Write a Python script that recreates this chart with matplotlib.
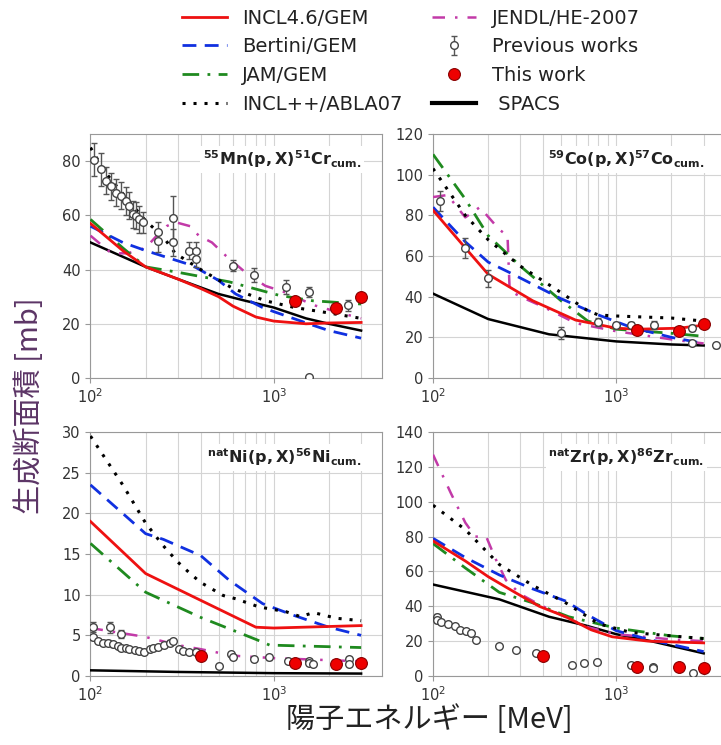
import matplotlib
matplotlib.use('Agg')
import matplotlib.pyplot as plt
from matplotlib.lines import Line2D

plt.rcParams['font.family'] = ['DejaVu Sans', 'Noto Sans CJK JP']


######################################################
# Data (energy in MeV, cross section in mb)

# 55Mn(p,X)51Cr
incl46_mn_e = [100, 150, 200, 300, 400, 500, 600, 800, 1000, 1500, 2000, 3000]
incl46_mn = [57, 47, 41, 36.5, 33, 30, 26.5, 22.5, 21, 20, 20.3, 20.5]
bertini_mn_e = [100, 150, 200, 360, 500, 620, 870, 1000, 1630, 2000, 3000]
bertini_mn = [56, 50, 47, 41.5, 36, 31, 26, 24.5, 19.5, 17.5, 14.7]
jam_mn_e = [100, 150, 200, 300, 570, 1070, 1630, 3000]
jam_mn = [58.5, 48, 41, 39, 35.5, 30.5, 28.5, 27.3]
inclpp_mn_e = [100, 120, 150, 200, 250, 290, 400, 600, 900, 1300, 2000, 3000]
inclpp_mn = [85, 76, 68, 58, 52, 46, 40, 33, 28.5, 26, 24, 22]
jendl_mn_e = [100, 130, 160, 200, 230, 260, 290, 350, 390, 460, 550, 700, 900, 1170, 1630, 2470, 3000]
jendl_mn = [52.5, 46, 46, 48, 52.5, 56, 57.5, 56, 52.5, 50, 45, 39, 34, 31.5, 27, 23.5, 22]
spacs_mn_e = [100, 200, 300, 500, 700, 1000, 1500, 2000, 3000]
spacs_mn = [50, 41, 36.5, 31, 28.5, 26, 22, 20, 17.5]
prev_mn_e = [105, 114, 122, 130, 138, 147, 156, 163, 170, 177, 185, 193, 233, 233,
             281, 281, 346, 377, 377, 596, 780, 1167, 1565, 1565, 2540]
prev_mn = [80.6, 77, 72.7, 70.8, 68.4, 67.2, 65.3, 63.5, 60.4, 59.8, 58.6, 57.4, 53.7, 50.6,
           59.2, 50, 47, 47, 44, 41.5, 37.9, 33.5, 31.7, 0.5, 26.8]
prev_mn_err = [6, 6, 5, 5, 5, 5, 5, 5, 5, 5, 5, 4, 4, 4,
               8, 5, 3, 3, 3, 2, 2.5, 2.5, 2, 0, 2]
this_mn_e = [1300, 2200, 3000]
this_mn = [28.5, 26, 30]

# 59Co(p,X)57Co
incl46_co_e = [100, 150, 200, 350, 600, 1000, 1300, 2200, 3000]
incl46_co = [82.5, 64, 51, 38, 28.5, 24.5, 24, 24.5, 26]
bertini_co_e = [100, 150, 200, 260, 500, 800, 1200, 2000, 3000]
bertini_co = [84, 67, 57, 52, 39, 31, 25, 20, 17]
jam_co_e = [100, 150, 200, 300, 500, 700, 1000, 2000, 3000]
jam_co = [110, 88, 70, 55, 38, 28, 24, 22, 20.5]
inclpp_co_e = [100, 150, 200, 300, 500, 700, 800, 1000, 2000, 3000]
inclpp_co = [103, 80, 68, 55, 42, 33, 31, 30.5, 29.5, 28]
jendl_co_e = [100, 120, 150, 180, 230, 255, 262, 300, 400, 600, 1000, 2000, 3000]
jendl_co = [89, 90, 79, 84, 73, 70, 43, 40, 35, 27, 23, 19, 17]
spacs_co_e = [100, 200, 430, 1000, 2000, 3000]
spacs_co = [41.5, 29, 21.5, 18, 16.5, 16]
prev_co_e = [109, 150, 200, 500, 800, 1000, 1200, 1600, 2600, 2600, 3500]
prev_co = [87, 64, 49, 22, 27.5, 26, 26, 26, 24.5, 17, 16]
prev_co_err = [5, 5, 4, 3, 2, 1.5, 1.5, 2, 1.5, 1, 1]
this_co_e = [1300, 2200, 3000]
this_co = [23.7, 23, 26.4]

# natNi(p,X)56Ni
incl46_ni_e = [100, 200, 400, 800, 1000, 3000]
incl46_ni = [19, 12.6, 9.3, 6.0, 5.9, 6.2]
bertini_ni_e = [100, 200, 250, 400, 570, 870, 1270, 2000, 3000]
bertini_ni = [23.5, 17.5, 16.8, 14.8, 11.8, 8.9, 7.5, 6, 5]
jam_ni_e = [100, 200, 400, 800, 950, 3000]
jam_ni = [16.3, 10.3, 7.2, 4.5, 3.8, 3.5]
inclpp_ni_e = [100, 150, 200, 250, 300, 350, 400, 530, 620, 830, 1170, 1400, 1650, 2200, 3000]
inclpp_ni = [29.5, 23.5, 18.8, 16, 14, 12.6, 11.5, 9.9, 9.5, 8.5, 7.9, 7.3, 7.8, 7.1, 6.8]
jendl_ni_e = [100, 200, 300, 400, 600, 1000, 3000]
jendl_ni = [5.9, 4.8, 3.8, 3.3, 2.5, 2.2, 1.8]
spacs_ni_e = [100, 300, 1000, 3000]
spacs_ni = [0.7, 0.5, 0.35, 0.3]
prev_ni_e = [103, 103, 110, 117, 124, 127, 132, 141, 147, 147, 156, 163, 174, 185, 197, 210, 219, 233,
             253, 270, 281, 306, 319, 346, 377, 505, 584, 596, 781, 945, 1190, 1268, 1565, 1565,
             1630, 2580, 2580]
prev_ni = [6, 4.75, 4.3, 4.1, 4.1, 6, 3.9, 3.7, 3.5, 5.2, 3.4, 3.3, 3.2, 3.1, 3.0, 3.3, 3.4, 3.6,
           3.8, 4.1, 4.3, 3.3, 3.1, 3.0, 2.9, 1.24, 2.7, 2.3, 2.1, 2.3, 1.9, 1.65, 1.9, 1.6,
           1.45, 2.1, 1.45]
prev_ni_err = [0.6, 0.3, 0.3, 0.3, 0.3, 0.7, 0.3, 0.3, 0.3, 0.5, 0.2, 0.2, 0.2, 0.2, 0.2, 0.2, 0.2, 0.2,
               0.2, 0.3, 0.3, 0.2, 0.2, 0.2, 0.2, 0.1, 0.3, 0.2, 0.2, 0.3, 0.2, 0.2, 0.2, 0.2,
               0.2, 0.2, 0.2]
this_ni_e = [400, 1300, 2200, 3000]
this_ni = [2.5, 1.65, 1.45, 1.65]

# natZr(p,X)86Zr
incl46_zr_e = [100, 150, 200, 280, 380, 530, 730, 950, 1500, 3000]
incl46_zr = [77.5, 66, 57, 48, 40, 34, 26.5, 22.5, 20, 19]
bertini_zr_e = [100, 150, 230, 350, 530, 700, 1000, 1500, 3000]
bertini_zr = [79, 68, 58, 50, 43, 35, 26, 21, 14]
jam_zr_e = [100, 150, 230, 350, 550, 1000, 2000, 3000]
jam_zr = [76, 62, 48, 42, 34, 27.5, 23, 21.5]
inclpp_zr_e = [100, 150, 230, 350, 530, 800, 1200, 2000, 3000]
inclpp_zr = [98, 84, 64, 52, 42, 30, 25, 23, 21.5]
jendl_zr_e = [100, 125, 150, 170, 195, 220, 250, 300, 380, 500, 700, 1000, 2000, 3000]
jendl_zr = [127, 105, 88, 80, 80, 67, 55, 47, 41, 35, 28, 24, 21, 20]
spacs_zr_e = [100, 230, 430, 680, 1000, 1550, 3000]
spacs_zr = [52.5, 44, 34, 29, 24, 20, 13]
prev_zr_e = [105, 105, 111, 121, 131, 140, 152, 162, 172, 230, 283, 363, 573, 664, 782, 1209, 1585, 1585, 2619]
prev_zr = [34, 32, 31, 30, 28.5, 26.5, 25.6, 24.6, 20.8, 17, 15, 13, 6.3, 7.3, 8.3, 6.3, 5.4, 4.4, 1.5]
prev_zr_err = [1.5, 1.5, 1.2, 1.2, 1.2, 1, 1, 1, 1, 0.8, 0.8, 0.6, 0.4, 0.4, 0.4, 0.4, 0.3, 0.3, 0.2]
this_zr_e = [400, 1300, 2200, 3000]
this_zr = [11.2, 5.4, 5.4, 4.4]

titles = [r'$^{\mathbf{55}}\mathbf{Mn(p,X)}^{\mathbf{51}}\mathbf{Cr}_{\mathbf{cum.}}$',
          r'$^{\mathbf{59}}\mathbf{Co(p,X)}^{\mathbf{57}}\mathbf{Co}_{\mathbf{cum.}}$',
          r'$^{\mathbf{nat}}\mathbf{Ni(p,X)}^{\mathbf{56}}\mathbf{Ni}_{\mathbf{cum.}}$',
          r'$^{\mathbf{nat}}\mathbf{Zr(p,X)}^{\mathbf{86}}\mathbf{Zr}_{\mathbf{cum.}}$']


######################################################
# Figure and panels
fig = plt.figure(figsize=(7.21, 7.45), dpi=100)

# left, bottom, width, height (the right column runs off the page like the original)
positions = [[0.1255, 0.4926, 0.4043, 0.3275],
             [0.6006, 0.4926, 0.4043, 0.3275],
             [0.1255, 0.0926, 0.4043, 0.3275],
             [0.6006, 0.0926, 0.4043, 0.3275]]
ylims = [(0, 90), (0, 120), (0, 30), (0, 140)]
ysteps = [20, 20, 5, 20]

panels = [
    (incl46_mn_e, incl46_mn, bertini_mn_e, bertini_mn, jam_mn_e, jam_mn, inclpp_mn_e, inclpp_mn,
     jendl_mn_e, jendl_mn, spacs_mn_e, spacs_mn, prev_mn_e, prev_mn, prev_mn_err, this_mn_e, this_mn),
    (incl46_co_e, incl46_co, bertini_co_e, bertini_co, jam_co_e, jam_co, inclpp_co_e, inclpp_co,
     jendl_co_e, jendl_co, spacs_co_e, spacs_co, prev_co_e, prev_co, prev_co_err, this_co_e, this_co),
    (incl46_ni_e, incl46_ni, bertini_ni_e, bertini_ni, jam_ni_e, jam_ni, inclpp_ni_e, inclpp_ni,
     jendl_ni_e, jendl_ni, spacs_ni_e, spacs_ni, prev_ni_e, prev_ni, prev_ni_err, this_ni_e, this_ni),
    (incl46_zr_e, incl46_zr, bertini_zr_e, bertini_zr, jam_zr_e, jam_zr, inclpp_zr_e, inclpp_zr,
     jendl_zr_e, jendl_zr, spacs_zr_e, spacs_zr, prev_zr_e, prev_zr, prev_zr_err, this_zr_e, this_zr),
]

handles = None
for i, p in enumerate(panels):
    ax = fig.add_axes(positions[i])
    (e1, v1, e2, v2, e3, v3, e4, v4, e5, v5, e6, v6, pe, pv, perr, te, tv) = p

    l_spacs, = ax.plot(e6, v6, color='black', lw=1.8, zorder=3)
    l_jendl, = ax.plot(e5, v5, color='#c23aa8', lw=1.8, ls=(0, (5, 4, 1, 4)), zorder=3)
    l_jam, = ax.plot(e3, v3, color='#1f8a1f', lw=2, ls=(0, (6, 3, 1, 3)), zorder=3)
    l_bert, = ax.plot(e2, v2, color='#1030e0', lw=2, ls=(0, (5, 3)), zorder=3)
    l_incl, = ax.plot(e1, v1, color='#ee1111', lw=2, zorder=3)
    l_pp, = ax.plot(e4, v4, color='black', lw=2.2, ls=(0, (1, 2.6)), zorder=3)

    prev = ax.errorbar(pe, pv, yerr=perr, fmt='o', ms=5.5, mfc='white', mec='#444444', mew=1,
                       ecolor='#555555', elinewidth=1, capsize=2, zorder=4)
    this, = ax.plot(te, tv, 'o', ms=8.5, color='#ee0000', mec='#880000', mew=0.8, zorder=5)

    ax.set_xscale('log')
    ax.set_xlim(100, 3900)
    ax.set_ylim(*ylims[i])
    ax.set_yticks(range(ylims[i][0], ylims[i][1] + 1, ysteps[i]))
    ax.grid(True, which='both', axis='x', color='#d4d4d4', lw=0.8)
    ax.grid(True, which='major', axis='y', color='#d4d4d4', lw=0.8)
    ax.set_axisbelow(True)
    for s in ax.spines.values():
        s.set_color('#999999')
    ax.tick_params(which='both', colors='#999999', labelcolor='#333333', labelsize=10.5)
    ax.tick_params(which='minor', length=0)

    ax.text(0.93, 0.895, titles[i], transform=ax.transAxes, ha='right', va='center', fontsize=11.5,
            color='#222222', zorder=6,
            bbox=dict(facecolor='white', edgecolor='none', pad=2))

    if handles is None:
        spacs_h = Line2D([], [], color='black', lw=3)
        handles = [l_incl, l_bert, l_jam, l_pp, l_jendl, prev, this, spacs_h]

labels = ['INCL4.6/GEM', 'Bertini/GEM', 'JAM/GEM', 'INCL++/ABLA07',
          'JENDL/HE-2007', 'Previous works', 'This work', ' SPACS']
fig.legend(handles, labels, ncol=2, loc='upper center', bbox_to_anchor=(0.57, 1.012),
           frameon=False, fontsize=14, handlelength=2.3, labelspacing=0.5, columnspacing=1.5,
           labelcolor='#222222')

fig.text(0.042, 0.456, '生成断面積 [mb]', rotation=90, ha='center', va='center', fontsize=21,
         family=['Noto Sans CJK JP', 'DejaVu Sans'], color='#5c3566')
fig.text(0.595, 0.033, '陽子エネルギー [MeV]', ha='center', va='center', fontsize=21,
         family=['Noto Sans CJK JP', 'DejaVu Sans'], color='#222222')

fig.savefig('out.png', dpi=100)
